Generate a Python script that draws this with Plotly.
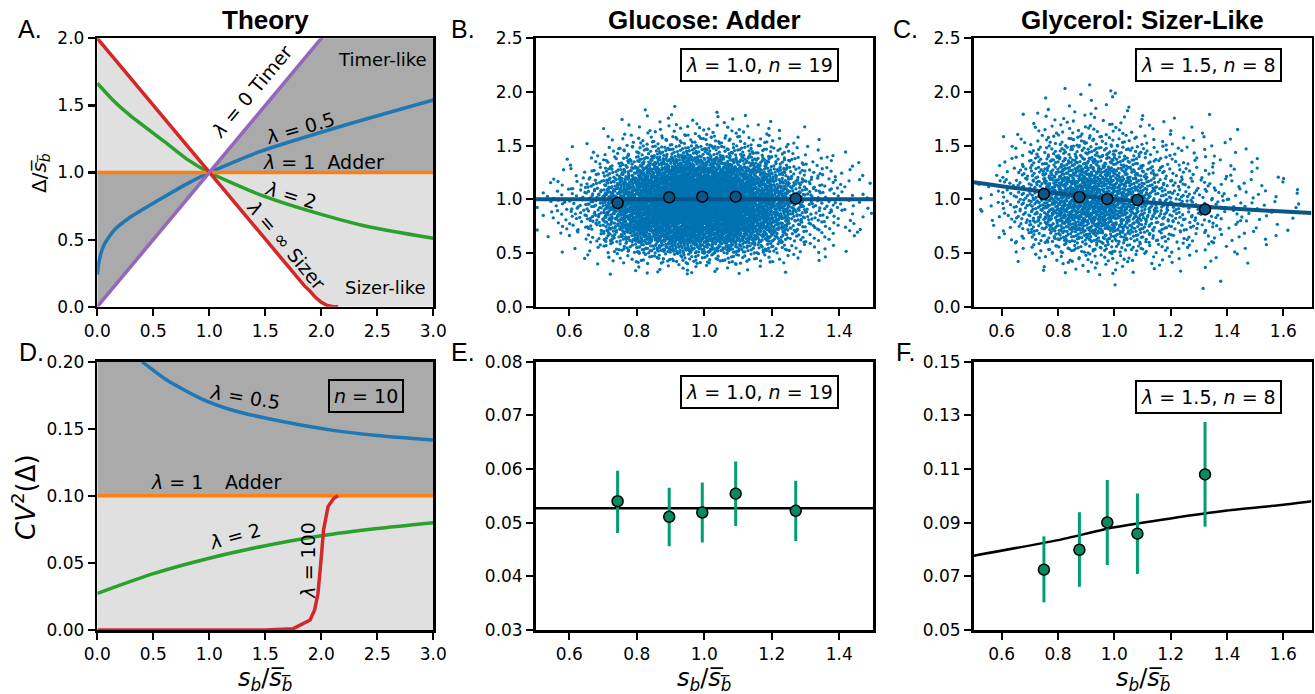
import plotly.graph_objects as go

# ---------------- Panel A (theory: Delta / <s_b>) ----------------
A_TIMER_X = [0.0, 3.0]
A_TIMER_Y = [0.0, 3.0]
A_ADDER_X = [0.0, 3.0]
A_ADDER_Y = [1.0, 1.0]
A_SIZER_X = [0.0, 1.80, 1.85, 1.90, 1.95, 2.00, 2.05, 2.10, 2.15]
A_SIZER_Y = [2.0, 0.20, 0.155, 0.115, 0.068, 0.032, 0.010, 0.002, 0.0]
A_L05_X = [0.0, 0.01, 0.03, 0.06, 0.15, 0.30, 0.60, 0.80, 1.0, 1.45, 2.2, 3.0]
A_L05_Y = [0.24, 0.31, 0.39, 0.46, 0.57, 0.67, 0.82, 0.915, 1.0, 1.155, 1.35, 1.54]
A_L2_X = [0.0, 0.15, 0.30, 0.60, 0.80, 1.0, 1.45, 1.90, 2.40, 3.0]
A_L2_Y = [1.665, 1.53, 1.42, 1.23, 1.10, 1.0, 0.835, 0.712, 0.60, 0.51]
A_X_RANGE = [0.0, 3.0]
A_Y_RANGE = [0.0, 2.0]

# ---------------- Panel D (theory: CV^2 of Delta) ----------------
D_ADDER_X = [0.0, 3.0]
D_ADDER_Y = [0.1, 0.1]
D_L05_X = [0.40, 0.62, 0.92, 1.20, 1.51, 2.09, 2.50, 3.0]
D_L05_Y = [0.200, 0.1863, 0.1727, 0.164, 0.1578, 0.149, 0.145, 0.1416]
D_L2_X = [0.0, 0.5, 1.0, 1.5, 2.0, 2.5, 3.0]
D_L2_Y = [0.0273, 0.0420, 0.0535, 0.0628, 0.0703, 0.0757, 0.0800]
D_L100_X = [0.0, 1.50, 1.75, 1.81, 1.90, 1.94, 1.97, 1.995, 2.02, 2.06, 2.11, 2.15]
D_L100_Y = [0.0, 0.0, 0.001, 0.0037, 0.0075, 0.0149, 0.027, 0.0497, 0.0745, 0.092, 0.098, 0.100]
D_Y_RANGE = [0.0, 0.2]

# ---------------- Panel B (glucose) ----------------
B_FIT_X = [0.5, 1.5]
B_FIT_Y = [1.0, 1.0]
B_BIN_X = [0.743, 0.896, 0.994, 1.093, 1.271]
B_BIN_Y = [0.966, 1.019, 1.025, 1.025, 1.006]
# density of the scatter cloud: dots per cell (0.05 wide x 0.1 tall)
B_COL_X0 = [0.50, 0.55, 0.60, 0.65, 0.70, 0.75, 0.80, 0.85, 0.90, 0.95,
            1.00, 1.05, 1.10, 1.15, 1.20, 1.25, 1.30, 1.35, 1.40, 1.45]
B_ROW_Y0 = [1.8, 1.7, 1.6, 1.5, 1.4, 1.3, 1.2, 1.1, 1.0, 0.9, 0.8, 0.7, 0.6, 0.5, 0.4, 0.3]
B_COUNTS = [
    [0, 0, 0, 0, 0, 0, 1, 0, 1, 0, 1, 0, 0, 0, 0, 0, 0, 0, 0, 0],
    [0, 0, 0, 0, 0, 1, 1, 2, 1, 2, 1, 2, 1, 1, 0, 0, 0, 0, 0, 0],
    [0, 0, 0, 0, 1, 2, 3, 3, 4, 4, 4, 3, 3, 3, 1, 1, 0, 0, 0, 0],
    [0, 0, 0, 1, 2, 4, 6, 7, 8, 8, 8, 7, 6, 5, 3, 2, 1, 0, 0, 0],
    [0, 0, 1, 2, 5, 8, 12, 15, 17, 18, 17, 15, 12, 10, 7, 4, 2, 1, 1, 0],
    [0, 1, 1, 3, 8, 14, 22, 28, 32, 34, 32, 28, 22, 18, 12, 7, 4, 2, 1, 1],
    [0, 1, 3, 6, 14, 24, 36, 45, 50, 52, 50, 45, 36, 28, 20, 11, 6, 4, 2, 1],
    [1, 3, 5, 10, 22, 36, 52, 62, 68, 70, 68, 62, 52, 40, 28, 16, 9, 5, 3, 2],
    [2, 4, 7, 14, 30, 46, 64, 74, 80, 82, 80, 74, 64, 50, 35, 19, 10, 6, 3, 2],
    [2, 5, 8, 15, 33, 50, 68, 78, 84, 86, 84, 78, 68, 52, 36, 20, 11, 7, 4, 2],
    [2, 4, 8, 14, 30, 46, 64, 74, 80, 82, 80, 74, 64, 50, 34, 19, 10, 6, 3, 2],
    [1, 3, 6, 10, 23, 37, 52, 62, 68, 70, 68, 62, 52, 40, 27, 15, 8, 5, 3, 1],
    [1, 1, 3, 6, 15, 25, 36, 44, 50, 52, 50, 44, 36, 28, 18, 9, 5, 3, 1, 1],
    [0, 1, 1, 3, 8, 13, 20, 25, 28, 30, 28, 25, 20, 15, 10, 5, 3, 2, 1, 0],
    [0, 0, 1, 1, 3, 5, 8, 10, 11, 12, 11, 10, 8, 6, 4, 2, 1, 1, 0, 0],
    [0, 0, 0, 1, 1, 1, 2, 3, 3, 3, 3, 2, 2, 1, 1, 0, 0, 0, 0, 0],
]

# ---------------- Panel C (glycerol) ----------------
C_FIT_X = [0.5, 0.75, 1.0, 1.25, 1.5, 1.7]
C_FIT_Y = [1.16, 1.07, 1.0, 0.945, 0.90, 0.872]
C_BIN_X = [0.750, 0.876, 0.975, 1.082, 1.322]
C_BIN_Y = [1.050, 1.022, 1.003, 0.994, 0.906]
C_COL_X0 = [0.50, 0.55, 0.60, 0.65, 0.70, 0.75, 0.80, 0.85, 0.90, 0.95, 1.00, 1.05,
            1.10, 1.15, 1.20, 1.25, 1.30, 1.35, 1.40, 1.45, 1.50, 1.55, 1.60, 1.65]
C_ROW_Y0 = [2.0, 1.9, 1.8, 1.7, 1.6, 1.5, 1.4, 1.3, 1.2, 1.1, 1.0, 0.9, 0.8, 0.7,
            0.6, 0.5, 0.4, 0.3, 0.2, 0.1]
C_COUNTS = [
    [0, 0, 0, 0, 0, 0, 1, 0, 1, 1, 0, 0, 0, 0, 0, 0, 0, 0, 0, 0, 0, 0, 0, 0],
    [0, 0, 0, 0, 0, 1, 0, 1, 1, 1, 1, 0, 0, 0, 0, 0, 0, 0, 0, 0, 0, 0, 0, 0],
    [0, 0, 0, 0, 1, 1, 1, 1, 1, 1, 1, 1, 0, 0, 0, 0, 0, 0, 0, 0, 0, 0, 0, 0],
    [0, 0, 0, 1, 1, 2, 2, 2, 2, 2, 2, 1, 1, 1, 1, 0, 1, 0, 0, 0, 0, 0, 0, 0],
    [0, 0, 0, 1, 2, 3, 3, 4, 4, 3, 3, 2, 2, 1, 1, 1, 1, 0, 1, 0, 0, 0, 0, 0],
    [0, 0, 1, 2, 3, 5, 6, 7, 7, 6, 5, 4, 3, 2, 2, 1, 1, 1, 1, 0, 0, 0, 0, 0],
    [0, 0, 1, 3, 5, 8, 10, 11, 11, 10, 9, 7, 5, 4, 3, 2, 2, 1, 1, 1, 0, 0, 0, 0],
    [0, 1, 2, 4, 8, 12, 15, 16, 16, 15, 13, 10, 7, 5, 4, 3, 2, 2, 1, 1, 1, 0, 0, 0],
    [0, 1, 3, 6, 11, 16, 21, 23, 23, 21, 18, 14, 10, 7, 5, 4, 3, 2, 2, 1, 1, 1, 0, 0],
    [1, 2, 4, 8, 14, 21, 27, 29, 29, 27, 23, 18, 13, 9, 7, 5, 4, 3, 2, 2, 1, 1, 1, 0],
    [1, 2, 5, 9, 16, 24, 30, 33, 33, 30, 26, 20, 15, 11, 8, 6, 5, 4, 3, 2, 2, 1, 1, 1],
    [1, 2, 5, 9, 16, 24, 30, 33, 33, 31, 27, 21, 16, 12, 9, 7, 5, 4, 3, 3, 2, 1, 1, 1],
    [1, 2, 4, 8, 14, 21, 27, 30, 30, 28, 25, 19, 15, 11, 9, 7, 5, 4, 3, 2, 2, 1, 1, 0],
    [0, 1, 3, 6, 11, 16, 21, 23, 24, 23, 20, 16, 12, 9, 7, 6, 4, 3, 3, 2, 1, 1, 1, 0],
    [0, 1, 2, 4, 7, 11, 14, 16, 17, 16, 14, 11, 9, 7, 5, 4, 3, 2, 2, 1, 1, 1, 0, 0],
    [0, 0, 1, 2, 4, 6, 8, 9, 9, 9, 8, 7, 5, 4, 3, 3, 2, 2, 1, 1, 1, 0, 0, 0],
    [0, 0, 0, 1, 2, 3, 4, 4, 5, 5, 4, 3, 3, 2, 2, 1, 1, 1, 1, 1, 0, 0, 0, 0],
    [0, 0, 0, 0, 1, 1, 1, 2, 2, 2, 2, 1, 1, 1, 1, 0, 1, 0, 0, 0, 0, 0, 0, 0],
    [0, 0, 0, 0, 0, 0, 0, 0, 1, 0, 1, 0, 0, 0, 0, 0, 0, 1, 0, 0, 0, 0, 0, 0],
    [0, 0, 0, 0, 0, 0, 0, 0, 0, 0, 0, 0, 0, 0, 0, 0, 1, 0, 0, 0, 0, 0, 0, 0],
]

# ---------------- Panel E (glucose CV^2) ----------------
E_FIT_X = [0.5, 1.5]
E_FIT_Y = [0.0527, 0.0527]
E_BIN_X = [0.743, 0.896, 0.994, 1.093, 1.271]
E_BIN_Y = [0.0540, 0.0511, 0.0519, 0.0554, 0.0522]
E_ERR_HI = [0.0597, 0.0565, 0.0575, 0.0614, 0.0578]
E_ERR_LO = [0.0481, 0.0456, 0.0463, 0.0494, 0.0466]

# ---------------- Panel F (glycerol CV^2) ----------------
F_FIT_X = [0.5, 0.8, 1.0, 1.2, 1.4, 1.6, 1.7]
F_FIT_Y = [0.0777, 0.0835, 0.0883, 0.0916, 0.0945, 0.0967, 0.0980]
F_BIN_X = [0.750, 0.876, 0.975, 1.082, 1.322]
F_BIN_Y = [0.0725, 0.0799, 0.0901, 0.0859, 0.1080]
F_ERR_HI = [0.0849, 0.0939, 0.1059, 0.1009, 0.1275]
F_ERR_LO = [0.0603, 0.0661, 0.0742, 0.0709, 0.0885]

# ---------------- colours ----------------
C_BLUE, C_ORANGE, C_GREEN, C_RED, C_PURPLE = '#1f77b4', '#ff7f0e', '#2ca02c', '#d62728', '#9467bd'
DARK_GRAY, LIGHT_GRAY = '#aaaaaa', '#e0e0e0'
DOT_BLUE, FIT_BLUE = '#0173b2', '#0a5689'
ERR_GREEN, DOT_GREEN = '#029e73', '#08895e'

W, H = 1315, 694


def halton(i, b):
    f, r = 1.0, 0.0
    while i > 0:
        f /= b
        r += f * (i % b)
        i //= b
    return r


def cloud(col_x0, row_y0, dx, dy, counts):
    """Spread each cell's dot count evenly inside the cell (deterministic layout)."""
    xs, ys = [], []
    k = 1
    for r, row in enumerate(counts):
        for c, n in enumerate(row):
            for _ in range(n):
                xs.append(col_x0[c] + dx * halton(k, 2))
                ys.append(row_y0[r] + dy * halton(k, 3))
                k += 1
    return xs, ys


fig = go.Figure()


def line(x, y, color, width, ax, shape='linear', smoothing=1.0):
    fig.add_trace(go.Scatter(x=x, y=y, mode='lines', xaxis='x' + ax, yaxis='y' + ax,
                             line=dict(color=color, width=width, shape=shape, smoothing=smoothing),
                             hoverinfo='skip', showlegend=False))


def fill_between(x0, y0, x1, y1, color, ax):
    fig.add_trace(go.Scatter(x=x0, y=y0, mode='lines', xaxis='x' + ax, yaxis='y' + ax,
                             line=dict(width=0, color=color), showlegend=False, hoverinfo='skip'))
    fig.add_trace(go.Scatter(x=x1, y=y1, mode='lines', xaxis='x' + ax, yaxis='y' + ax,
                             line=dict(width=0, color=color), fill='tonexty', fillcolor=color,
                             showlegend=False, hoverinfo='skip'))


# ----- Panel A -----
fill_between(A_ADDER_X, A_ADDER_Y, A_SIZER_X + [A_X_RANGE[1]], A_SIZER_Y + [A_Y_RANGE[0]], LIGHT_GRAY, '1')
fill_between(A_ADDER_X, A_ADDER_Y, A_TIMER_X, A_TIMER_Y, DARK_GRAY, '1')
line(A_L05_X, A_L05_Y, C_BLUE, 3.5, '1', 'spline', 0.6)
line(A_L2_X, A_L2_Y, C_GREEN, 3.5, '1', 'spline', 0.6)
line(A_ADDER_X, A_ADDER_Y, C_ORANGE, 3.5, '1')
line(A_SIZER_X, A_SIZER_Y, C_RED, 3.5, '1')
line(A_TIMER_X, A_TIMER_Y, C_PURPLE, 3.5, '1')

# ----- Panel D -----
fill_between(D_ADDER_X, [D_Y_RANGE[0]] * 2, D_ADDER_X, D_ADDER_Y, LIGHT_GRAY, '4')
fill_between(D_ADDER_X, D_ADDER_Y, D_ADDER_X, [D_Y_RANGE[1]] * 2, DARK_GRAY, '4')
line(D_L05_X, D_L05_Y, C_BLUE, 3.5, '4', 'spline', 0.6)
line(D_L2_X, D_L2_Y, C_GREEN, 3.5, '4', 'spline', 0.6)
line(D_ADDER_X, D_ADDER_Y, C_ORANGE, 3.5, '4')
line(D_L100_X, D_L100_Y, C_RED, 3.5, '4')

# ----- Panels B, C -----
for ax, (cx, ry, cnt), fx, fy, bx, by in [
        ('2', (B_COL_X0, B_ROW_Y0, B_COUNTS), B_FIT_X, B_FIT_Y, B_BIN_X, B_BIN_Y),
        ('3', (C_COL_X0, C_ROW_Y0, C_COUNTS), C_FIT_X, C_FIT_Y, C_BIN_X, C_BIN_Y)]:
    xs, ys = cloud(cx, ry, 0.05, 0.1, cnt)
    fig.add_trace(go.Scatter(x=xs, y=ys, mode='markers', xaxis='x' + ax, yaxis='y' + ax,
                             marker=dict(size=3.3, color=DOT_BLUE, line=dict(width=0)),
                             hoverinfo='skip', showlegend=False))
    line(fx, fy, FIT_BLUE, 4, ax, 'spline', 0.6)
    fig.add_trace(go.Scatter(x=bx, y=by, mode='markers', xaxis='x' + ax, yaxis='y' + ax,
                             marker=dict(size=11, color=FIT_BLUE, line=dict(width=1.5, color='black')),
                             hoverinfo='skip', showlegend=False))

# ----- Panels E, F -----
for ax, fx, fy, bx, by, hi, lo in [('5', E_FIT_X, E_FIT_Y, E_BIN_X, E_BIN_Y, E_ERR_HI, E_ERR_LO),
                                   ('6', F_FIT_X, F_FIT_Y, F_BIN_X, F_BIN_Y, F_ERR_HI, F_ERR_LO)]:
    line(fx, fy, 'black', 2.5, ax, 'spline', 0.6)
    fig.add_trace(go.Scatter(
        x=bx, y=by, mode='markers', xaxis='x' + ax, yaxis='y' + ax,
        error_y=dict(type='data', symmetric=False,
                     array=[h - v for h, v in zip(hi, by)],
                     arrayminus=[v - l for l, v in zip(lo, by)],
                     color=ERR_GREEN, thickness=3, width=0),
        marker=dict(size=11, color=DOT_GREEN, line=dict(width=1.5, color='black')),
        hoverinfo='skip', showlegend=False))

# ----- axes -----
XD = [[97.3, 433.3], [535.6, 873.0], [973.5, 1311.5]]
YD = [[38.3, 306.7], [361.7, 630.0]]


def xdom(i):
    return [XD[i][0] / W, XD[i][1] / W]


def ydom(r):
    return [1 - YD[r][1] / H, 1 - YD[r][0] / H]


base = dict(showline=True, linecolor='black', linewidth=2.5, mirror=True, ticks='outside',
            ticklen=7, tickwidth=2.2, tickcolor='black', showgrid=False, zeroline=False,
            automargin=False,
            tickfont=dict(family='DejaVu Sans', size=17, color='black'), fixedrange=True)

specs = {
    '1': dict(xr=[0, 3], xt=[0, 0.5, 1, 1.5, 2, 2.5, 3], yr=[0, 2], yt=[0, 0.5, 1, 1.5, 2], yf='.1f', c=0, r=0),
    '2': dict(xr=[0.5, 1.5], xt=[0.6, 0.8, 1.0, 1.2, 1.4], yr=[0, 2.5], yt=[0, 0.5, 1, 1.5, 2, 2.5], yf='.1f', c=1, r=0),
    '3': dict(xr=[0.5, 1.7], xt=[0.6, 0.8, 1.0, 1.2, 1.4, 1.6], yr=[0, 2.5], yt=[0, 0.5, 1, 1.5, 2, 2.5], yf='.1f', c=2, r=0),
    '4': dict(xr=[0, 3], xt=[0, 0.5, 1, 1.5, 2, 2.5, 3], yr=[0, 0.2], yt=[0, 0.05, 0.1, 0.15, 0.2], yf='.2f', c=0, r=1),
    '5': dict(xr=[0.5, 1.5], xt=[0.6, 0.8, 1.0, 1.2, 1.4], yr=[0.03, 0.08], yt=[0.03, 0.04, 0.05, 0.06, 0.07, 0.08], yf='.2f', c=1, r=1),
    '6': dict(xr=[0.5, 1.7], xt=[0.6, 0.8, 1.0, 1.2, 1.4, 1.6], yr=[0.05, 0.15], yt=[0.05, 0.07, 0.09, 0.11, 0.13, 0.15], yf='.2f', c=2, r=1),
}
layout_axes = {}
for k, s in specs.items():
    xa = 'xaxis' if k == '1' else 'xaxis' + k
    ya = 'yaxis' if k == '1' else 'yaxis' + k
    layout_axes[xa] = dict(base, domain=xdom(s['c']), range=s['xr'], tickvals=s['xt'],
                           tickformat='.1f', anchor='y' + k)
    layout_axes[ya] = dict(base, domain=ydom(s['r']), range=s['yr'], tickvals=s['yt'],
                           tickformat=s['yf'], anchor='x' + k)

ann = []


def A(text, x, y, ax, size=18, angle=0, **kw):
    d = dict(text=text, x=x, y=y, xref='x' + ax, yref='y' + ax, showarrow=False, textangle=angle,
             font=dict(family='DejaVu Sans', size=size, color='black'), xanchor='center', yanchor='middle')
    d.update(kw)
    ann.append(d)


def P(text, px, py, size=18, angle=0, family='DejaVu Sans', **kw):
    d = dict(text=text, x=px / W, y=1 - py / H, xref='paper', yref='paper', showarrow=False,
             textangle=angle, font=dict(family=family, size=size, color='black'),
             xanchor='center', yanchor='middle')
    d.update(kw)
    ann.append(d)


L = '<i>λ</i>'
# panel A texts
A(L + ' = 0 Timer', 1.38, 1.61, '1', 19, -50)
A(L + ' = 0.5', 1.81, 1.334, '1', 19, -16)
A(L + ' = 1  Adder', 2.02, 1.08, '1', 19)
A(L + ' = 2', 1.73, 0.832, '1', 19, 17)
A(L + ' = ∞ Sizer', 1.69, 0.46, '1', 19, 50)
A('Timer-like', 2.55, 1.84, '1', 18)
A('Sizer-like', 2.575, 0.145, '1', 18)
# panel D texts
A(L + ' = 0.5', 1.32, 0.174, '4', 19, 9)
A('<i>n</i> = 10', 2.40, 0.1747, '4', 19, bordercolor='black', borderwidth=2, borderpad=4)
A(L + ' = 1', 0.71, 0.1106, '4', 19)
A('Adder', 1.39, 0.1106, '4', 19)
A(L + ' = 2', 1.23, 0.070, '4', 19, -15)
A(L + ' = 100', 1.885, 0.052, '4', 19, -90)
# parameter boxes
A(L + ' = 1.0, <i>n</i> = 19', 1.163, 2.25, '2', 19, bordercolor='black', borderwidth=2, borderpad=4, bgcolor='white')
A(L + ' = 1.5, <i>n</i> = 8', 1.334, 2.25, '3', 19, bordercolor='black', borderwidth=2, borderpad=4, bgcolor='white')
A(L + ' = 1.0, <i>n</i> = 19', 1.163, 0.0743, '5', 19, bordercolor='black', borderwidth=2, borderpad=4, bgcolor='white')
A(L + ' = 1.5, <i>n</i> = 8', 1.334, 0.1368, '6', 19, bordercolor='black', borderwidth=2, borderpad=4, bgcolor='white')

# titles
for t, cx in [('Theory', 265.3), ('Glucose: Adder', 704.3), ('Glycerol: Sizer-Like', 1142.5)]:
    P('<b>' + t + '</b>', cx, 20, 26, family='Liberation Sans')
# panel letters
for t, px, py in [('A.', 30, 29), ('B.', 463, 29), ('C.', 905, 29), ('D.', 31, 352), ('E.', 463, 352), ('F.', 905, 352)]:
    P(t, px, py, 25, family='Liberation Sans')
# axis titles
SB = '<i>s</i><sub><i>b</i></sub>/<i>s̅</i><sub><i>b̅</i></sub>'
for cx in [265.3, 704.3, 1142.5]:
    P(SB, cx, 679, 24)
P('Δ/<i>s̅</i><sub><i>b̅</i></sub>', 40, 173, 20, -90)
P('<i>CV</i><sup>2</sup>(Δ)', 24, 497, 26, -90)

fig.update_layout(width=W, height=H, margin=dict(l=0, r=0, t=0, b=0, autoexpand=False),
                  paper_bgcolor='white', plot_bgcolor='white',
                  font=dict(family='DejaVu Sans', size=17, color='black'),
                  showlegend=False, annotations=ann, **layout_axes)

fig.write_html('out.html', config={'displayModeBar': False, 'staticPlot': True},
               post_script="document.body.style.margin='0px';document.body.style.overflow='hidden';")
